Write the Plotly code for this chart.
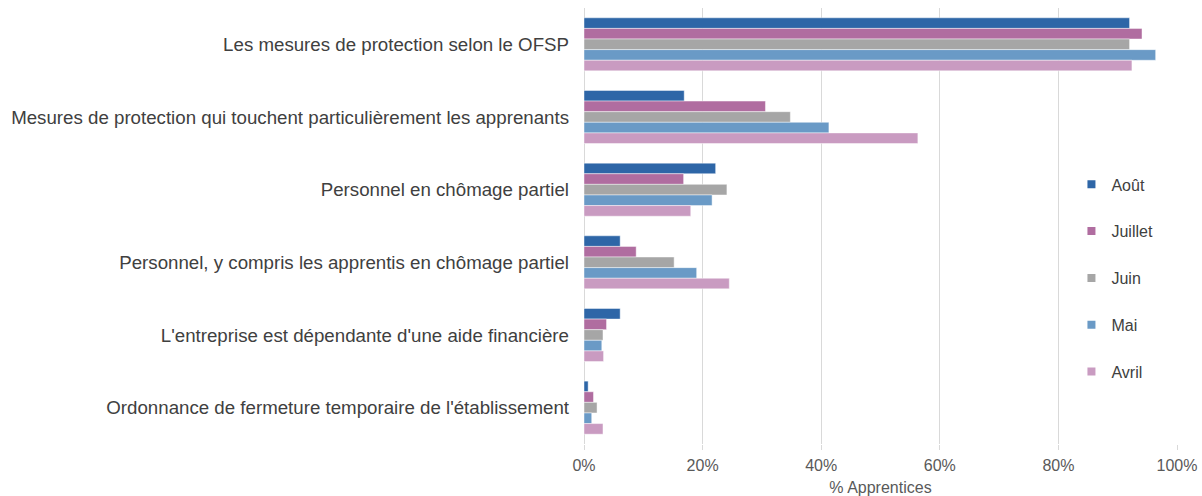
import plotly.graph_objects as go

categories = [
    "Les mesures de protection selon le OFSP",
    "Mesures de protection qui touchent particulièrement les apprenants",
    "Personnel en chômage partiel",
    "Personnel, y compris les apprentis en chômage partiel",
    "L'entreprise est dépendante d'une aide financière",
    "Ordonnance de fermeture temporaire de l'établissement",
]
series_names = ["Août", "Juillet", "Juin", "Mai", "Avril"]
aout = [92.0, 16.9, 22.2, 6.1, 6.1, 0.7]
juillet = [94.1, 30.6, 16.8, 8.8, 3.8, 1.6]
juin = [92.0, 34.8, 24.1, 15.2, 3.2, 2.2]
mai = [96.4, 41.3, 21.6, 19.0, 3.0, 1.3]
avril = [92.4, 56.3, 18.0, 24.5, 3.3, 3.2]
values = [aout, juillet, juin, mai, avril]
colors = ["#2e66a7", "#b06da0", "#a6a6a6", "#6a9ac6", "#c99bc1"]
x_ticks = [0, 20, 40, 60, 80, 100]
x_tick_labels = ["0%", "20%", "40%", "60%", "80%", "100%"]

fig = go.Figure()
for name, vals, col in zip(series_names, values, colors):
    fig.add_trace(go.Bar(
        y=categories, x=vals, name=name, orientation="h",
        marker=dict(color=col, line=dict(color="rgba(255,255,255,0.45)", width=1)),
        legendgroup=name, showlegend=False,
    ))
# legend entries with small square keys
for name, col in zip(series_names, colors):
    fig.add_trace(go.Scatter(
        x=[None], y=[None], mode="markers", name=name, legendgroup=name,
        marker=dict(symbol="square", size=8, color=col), showlegend=True,
    ))

arial = "Liberation Sans, Arial, Helvetica, sans-serif"
fig.update_layout(
    width=1202, height=496,
    margin=dict(l=584, r=25, t=8, b=52),
    barmode="group", bargap=0.27, bargroupgap=0,
    plot_bgcolor="white", paper_bgcolor="white",
    font=dict(family=arial, size=16, color="#595959"),
    legend=dict(
        x=0.822, y=0.381, xanchor="left", yanchor="middle",
        font=dict(family=arial, size=16, color="#404040"),
        tracegroupgap=23, itemwidth=30, bgcolor="rgba(0,0,0,0)",
    ),
    showlegend=True,
)
fig.update_xaxes(
    range=[0, 100], tickvals=x_ticks, ticktext=x_tick_labels,
    showgrid=True, gridcolor="#d9d9d9", gridwidth=1,
    zeroline=True, zerolinecolor="#d9d9d9", zerolinewidth=1,
    ticks="outside", ticklen=5, tickcolor="#d9d9d9", ticklabelstandoff=2,
    tickfont=dict(family=arial, size=16, color="#595959"),
    title=dict(text="% Apprentices", font=dict(family=arial, size=16, color="#595959"), standoff=12),
    automargin=False,
)
fig.update_yaxes(
    type="category", categoryorder="array", categoryarray=categories,
    autorange="reversed", showgrid=False, ticks="", ticklabelstandoff=14,
    tickfont=dict(family=arial, size=18.7, color="#404040"),
    automargin=False,
)
fig.write_html("out.html", config={"displayModeBar": False},
               post_script="document.body.style.margin='0';")
